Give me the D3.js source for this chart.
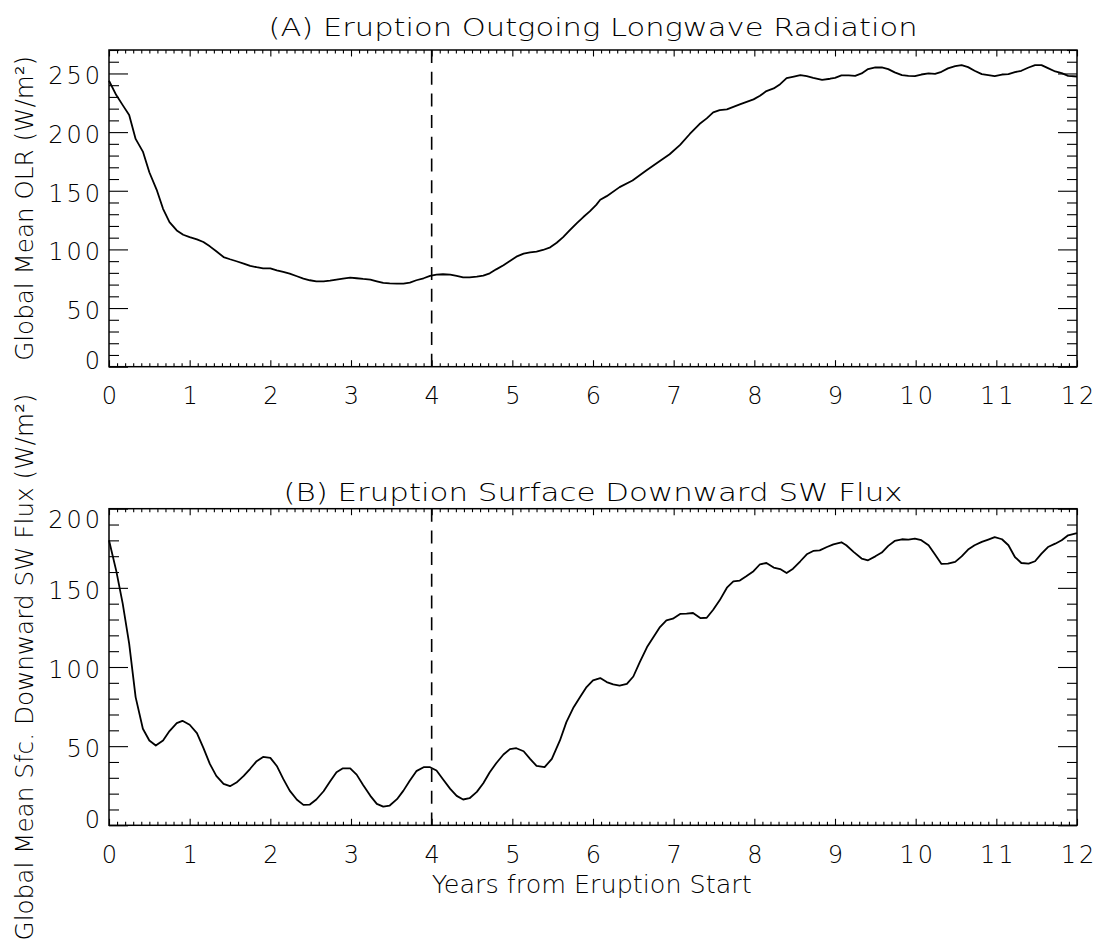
<!DOCTYPE html>
<html lang="en">
<head>
    <meta charset="UTF-8">
    <title>Eruption flux</title>
    <script src="https://cdn.jsdelivr.net/npm/d3@7/dist/d3.min.js"></script>
    <style>
        body{margin:0;background:#fff;}
        svg text{font-family:"DejaVu Sans",sans-serif;font-weight:200;fill:#000;}
    </style>
</head>
<body>
    <svg></svg>
    <script>
        //tick labels
        var yearTicks = [0,1,2,3,4,5,6,7,8,9,10,11,12];
        var olrTicks = [0,50,100,150,200,250];
        var swTicks = [0,50,100,150,200];
        var eruptionMark = 4;

        //(A) global mean OLR, [years, W/m2]
        var olrSeries = [
            [0,243.8],[0.09,231.6],[0.17,223],[0.25,214.6],[0.33,194.2],[0.42,183.4],[0.5,165.8],[0.59,151],
            [0.67,134.6],[0.75,123.3],[0.84,116.2],[0.92,112.5],[1.0,110.5],[1.09,108.6],[1.17,106.3],[1.25,102.6],
            [1.33,98.4],[1.42,93.5],[1.5,91.6],[1.58,89.9],[1.67,87.9],[1.75,85.9],[1.83,84.8],[1.91,83.9],
            [2.0,83.9],[2.08,82.2],[2.16,80.8],[2.24,79.4],[2.33,77.1],[2.41,75.1],[2.49,73.7],[2.57,72.8],
            [2.66,72.8],[2.74,73.4],[2.82,74.3],[2.9,75.1],[2.99,76],[3.07,75.4],[3.15,74.8],[3.24,74.3],
            [3.32,72.8],[3.4,71.4],[3.48,71.1],[3.57,70.9],[3.65,70.9],[3.73,71.7],[3.81,73.7],[3.9,75.4],
            [3.98,77.4],[4.06,78.5],[4.14,78.8],[4.23,78.5],[4.31,77.4],[4.39,76.2],[4.47,76.2],[4.56,76.8],
            [4.64,77.7],[4.72,79.6],[4.8,83],[4.89,86.5],[4.97,90.1],[5.05,93.8],[5.14,96.4],[5.22,97.5],
            [5.3,98.1],[5.38,99.5],[5.47,101.8],[5.55,105.7],[5.63,110.5],[5.71,116.2],[5.8,122.4],[5.88,127.6],
            [5.96,132.4],[6.04,138],[6.09,142.3],[6.17,145.4],[6.33,153.1],[6.49,158.7],[6.66,167.2],[6.82,174.9],
            [6.95,181.1],[7.08,189.1],[7.2,198.4],[7.32,206.9],[7.41,211.7],[7.49,216.8],[7.57,218.8],[7.66,219.4],
            [7.82,223.6],[7.99,227.9],[8.07,231],[8.15,235],[8.24,237.2],[8.32,240.9],[8.4,246],[8.49,247.4],
            [8.57,248.6],[8.65,247.7],[8.73,246.3],[8.84,244.6],[8.94,245.5],[9.0,246.3],[9.08,248.3],[9.17,248.3],
            [9.25,248],[9.33,250],[9.41,253.7],[9.5,255.1],[9.58,255.1],[9.66,253.7],[9.74,250.9],[9.83,248.6],
            [9.91,248],[9.99,247.7],[10.07,249.1],[10.16,250],[10.24,249.7],[10.32,251.4],[10.4,254.3],[10.49,256.2],
            [10.57,257.1],[10.65,255.4],[10.73,252.3],[10.82,249.4],[10.9,248.6],[10.98,247.7],[11.07,249.1],[11.15,249.4],
            [11.23,251.1],[11.31,252.3],[11.4,255.1],[11.48,257.1],[11.56,257.1],[11.64,254.5],[11.73,251.7],[11.81,250.3],
            [11.89,248],[12.0,247.4]
        ];

        //(B) global mean surface downward SW, [years, W/m2]
        var swSeries = [
            [0,180.1],[0.09,160.7],[0.17,140],[0.25,114.7],[0.33,81],[0.42,61],[0.5,53.6],[0.58,50.4],
            [0.67,53.6],[0.75,59.5],[0.84,64.5],[0.91,66],[1.0,63.5],[1.09,58.2],[1.17,48.9],[1.25,38.8],
            [1.33,31.2],[1.42,26.2],[1.5,24.7],[1.58,27],[1.67,31.2],[1.75,35.7],[1.83,40.5],[1.91,43.2],
            [2.0,42.6],[2.08,37.5],[2.16,29.3],[2.24,21.9],[2.33,16.1],[2.41,12.9],[2.49,13.1],[2.57,16.3],
            [2.66,21.5],[2.74,27.6],[2.82,33.5],[2.9,36],[2.99,36],[3.07,32],[3.15,25.5],[3.24,18.6],
            [3.32,13.5],[3.4,11.8],[3.48,12.5],[3.57,16.5],[3.65,21.9],[3.73,28.3],[3.81,34.2],[3.9,36.7],
            [3.98,36.7],[4.06,34.6],[4.14,29.1],[4.23,23],[4.31,18.6],[4.39,16.3],[4.47,17.1],[4.56,21.1],
            [4.64,26.6],[4.72,33.5],[4.8,39.2],[4.89,44.7],[4.97,48.1],[5.05,48.7],[5.14,46.8],[5.22,42],
            [5.3,37.5],[5.4,36.7],[5.49,42],[5.59,53.6],[5.67,65.2],[5.76,74.6],[5.84,81],[5.92,87.3],
            [6.0,91.5],[6.09,93],[6.17,90.5],[6.25,89],[6.33,88.3],[6.42,89.4],[6.5,94],[6.58,103.1],
            [6.67,112.6],[6.75,118.9],[6.83,125.2],[6.91,129.5],[6.99,130.5],[7.08,133.5],[7.16,133.7],[7.24,134.1],
            [7.33,130.9],[7.41,131.1],[7.49,136.2],[7.57,142.1],[7.66,150.1],[7.74,154.1],[7.82,154.6],[7.9,157.3],
            [7.99,160.5],[8.07,164.9],[8.15,165.7],[8.24,162.8],[8.32,161.9],[8.4,159.4],[8.48,162.1],[8.57,166.8],
            [8.65,171.2],[8.73,173.3],[8.81,173.7],[8.9,175.8],[8.98,177.5],[9.08,178.8],[9.14,176.9],[9.23,172.7],
            [9.33,168.5],[9.41,167.4],[9.5,169.9],[9.58,172.3],[9.66,176.5],[9.74,179.6],[9.83,180.7],[9.91,180.5],
            [9.99,181.1],[10.07,180.1],[10.16,176.9],[10.24,171],[10.32,165.1],[10.4,165.3],[10.49,166.4],[10.57,169.9],
            [10.65,174.2],[10.73,176.9],[10.82,179],[10.9,180.5],[10.98,182],[11.07,180.7],[11.15,176.9],[11.23,169.5],
            [11.31,165.7],[11.4,165.3],[11.48,166.8],[11.56,171.6],[11.64,175.8],[11.73,177.9],[11.81,180.1],[11.89,183.2],
            [12.0,184.5]
        ];

        var width = 1096, height = 946;
        var left = 109, right = 1077;
        var digitGap = 3; //extra spacing between tick-label digits

        var svg = d3.select("svg")
            .attr("width",width)
            .attr("height",height);

        var x = d3.scaleLinear().domain([0,12]).range([left,right]);
        //minor ticks every 0.1 year
        var xMinor = d3.range(0,121).map(function(i){return i/10;})
            .filter(function(v){return yearTicks.indexOf(v) < 0;});

        function drawPanel(p){
            var y = d3.scaleLinear().domain([0,p.yMax]).range([p.bottom,p.top]);
            var yMinor = d3.range(0,p.yMax+1,10).filter(function(v){return p.yTicks.indexOf(v) < 0;});
            var g = svg.append("g");

            //minor ticks, all four sides pointing inward
            g.append("g").attr("transform","translate(0,"+p.bottom+")")
                .call(d3.axisBottom(x).tickValues(xMinor).tickSize(-3.5).tickFormat(""));
            g.append("g").attr("transform","translate(0,"+p.top+")")
                .call(d3.axisTop(x).tickValues(xMinor).tickSize(-3.5).tickFormat(""));
            g.append("g").attr("transform","translate("+left+",0)")
                .call(d3.axisLeft(y).tickValues(yMinor).tickSize(-10).tickFormat(""));
            g.append("g").attr("transform","translate("+right+",0)")
                .call(d3.axisRight(y).tickValues(yMinor).tickSize(-10).tickFormat(""));

            //major ticks
            var xb = g.append("g").attr("transform","translate(0,"+p.bottom+")")
                .call(d3.axisBottom(x).tickValues(yearTicks).tickSize(-6.5).tickFormat(d3.format("d")));
            xb.selectAll("text").attr("y",37.6).attr("dy",null).attr("dx",digitGap/2);
            g.append("g").attr("transform","translate(0,"+p.top+")")
                .call(d3.axisTop(x).tickValues(yearTicks).tickSize(-6.5).tickFormat(""));
            var yl = g.append("g").attr("transform","translate("+left+",0)")
                .call(d3.axisLeft(y).tickValues(p.yTicks).tickSize(-19).tickFormat(d3.format("d")));
            //labels at the axis ends are pulled inside the box
            yl.selectAll("text")
                .attr("x",-9+digitGap)
                .attr("dy","0.365em")
                .attr("y",function(d){
                    var c = Math.max(p.top+10.5,Math.min(p.bottom-7,y(d)+1.5));
                    return c - y(d);
                });
            g.append("g").attr("transform","translate("+right+",0)")
                .call(d3.axisRight(y).tickValues(p.yTicks).tickSize(-19).tickFormat(""));

            g.selectAll(".domain").remove();
            g.selectAll(".tick line").attr("stroke","#000").attr("stroke-width",1.1);
            g.selectAll(".tick text").attr("font-size",24).attr("fill","#000")
                .style("letter-spacing",digitGap+"px")
                .style("font-family","DejaVu Sans").style("font-weight",200);

            //frame
            g.append("rect")
                .attr("x",left).attr("y",p.top)
                .attr("width",right-left).attr("height",p.bottom-p.top)
                .attr("fill","none").attr("stroke","#000").attr("stroke-width",1.5);

            //eruption marker
            g.append("line")
                .attr("x1",x(eruptionMark)).attr("x2",x(eruptionMark))
                .attr("y1",p.top).attr("y2",p.bottom)
                .attr("stroke","#000").attr("stroke-width",1.6)
                .attr("stroke-dasharray","13,8.7");

            var line = d3.line()
                .x(function(d){return x(d[0]);})
                .y(function(d){return y(d[1]);});
            g.append("path")
                .datum(p.data)
                .attr("d",line)
                .attr("fill","none")
                .attr("stroke","#000")
                .attr("stroke-width",1.8)
                .attr("stroke-linejoin","round");

            //title
            g.append("text")
                .attr("x",(left+right)/2).attr("y",p.titleY)
                .attr("text-anchor","middle")
                .attr("font-size",25)
                .attr("textLength",p.titleLen).attr("lengthAdjust","spacingAndGlyphs")
                .text(p.title);
            //y label
            var cy = (p.top+p.bottom)/2;
            g.append("text")
                .attr("transform","translate(33,"+cy+") rotate(-90)")
                .attr("text-anchor","middle")
                .attr("font-size",24)
                .attr("textLength",p.ylabelLen).attr("lengthAdjust","spacingAndGlyphs")
                .text(p.ylabel);
            return g;
        }

        drawPanel({
            top:50, bottom:366.7, yMax:270, yTicks:olrTicks, data:olrSeries,
            title:"(A) Eruption Outgoing Longwave Radiation", titleY:36, titleLen:649,
            ylabel:"Global Mean OLR (W/m\u00b2)", ylabelLen:305
        });
        drawPanel({
            top:508.7, bottom:825.3, yMax:200, yTicks:swTicks, data:swSeries,
            title:"(B) Eruption Surface Downward SW Flux", titleY:501, titleLen:619,
            ylabel:"Global Mean Sfc. Downward SW Flux (W/m\u00b2)", ylabelLen:547
        });

        //x label under bottom panel
        svg.append("text")
            .attr("x",(431.7+751.7)/2).attr("y",893)
            .attr("text-anchor","middle")
            .attr("font-size",24)
            .attr("textLength",320).attr("lengthAdjust","spacingAndGlyphs")
            .text("Years from Eruption Start");
    </script>
</body>
</html>
